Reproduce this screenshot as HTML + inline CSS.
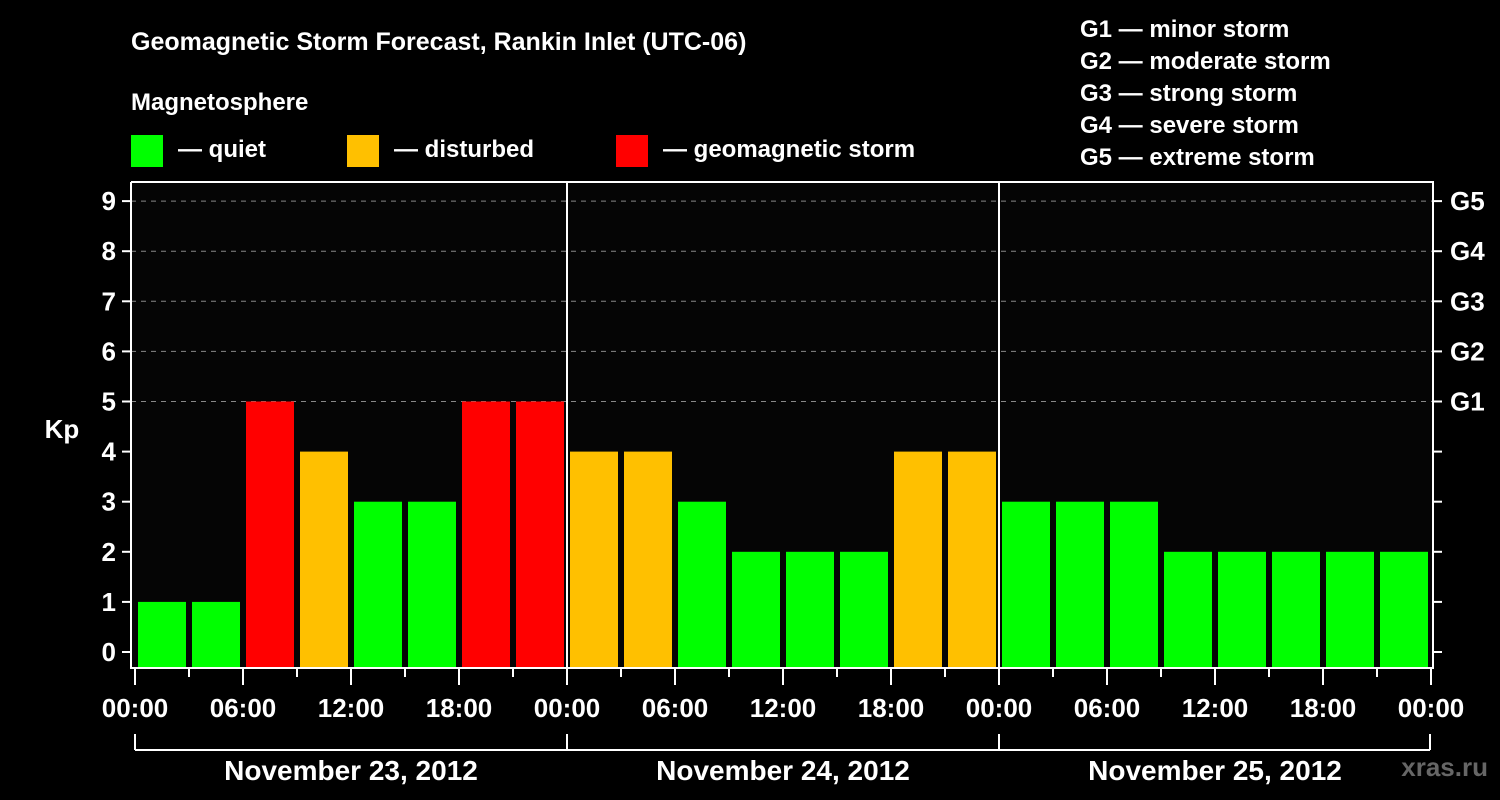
<!DOCTYPE html>
<html><head><meta charset="utf-8"><style>
html,body{margin:0;padding:0;background:#000;}
svg{display:block;font-family:"Liberation Sans",Arial,sans-serif;font-weight:bold;}
</style></head><body>
<svg id="chart" width="1500" height="800" viewBox="0 0 1500 800">
<rect x="0" y="0" width="1500" height="800" fill="#000"/>
<text x="131" y="50" fill="#fff" font-size="25">Geomagnetic Storm Forecast, Rankin Inlet (UTC-06)</text>
<text x="131" y="110" fill="#fff" font-size="24">Magnetosphere</text>
<g><rect x="131" y="135" width="32" height="32" fill="#00ff00"/><text x="178" y="157" fill="#fff" font-size="24">— quiet</text></g>
<g><rect x="347" y="135" width="32" height="32" fill="#ffc000"/><text x="394" y="157" fill="#fff" font-size="24">— disturbed</text></g>
<g><rect x="616" y="135" width="32" height="32" fill="#ff0000"/><text x="663" y="157" fill="#fff" font-size="24">— geomagnetic storm</text></g>
<g fill="#fff" font-size="24">
<text x="1080" y="37">G1 — minor storm</text>
<text x="1080" y="69">G2 — moderate storm</text>
<text x="1080" y="101">G3 — strong storm</text>
<text x="1080" y="133">G4 — severe storm</text>
<text x="1080" y="165">G5 — extreme storm</text>
</g>
<rect x="131" y="182" width="1302" height="486" fill="#050505"/>
<g id="grid"></g>
<g id="bars"></g>
<g id="axes"></g>
<text x="62" y="438" fill="#fff" font-size="26" text-anchor="middle">Kp</text>
<text x="1488" y="776" fill="#666" font-size="26" text-anchor="end">xras.ru</text>
</svg>
<script>
const days = ["November 23, 2012","November 24, 2012","November 25, 2012"];
const kpValues = [1,1,5,4,3,3,5,5, 4,4,3,2,2,2,4,4, 3,3,3,2,2,2,2,2];
const yTicks = [0,1,2,3,4,5,6,7,8,9];
const gLabels = ["G1","G2","G3","G4","G5"];
const timeLabels = ["00:00","06:00","12:00","18:00"];

const NS="http://www.w3.org/2000/svg";
const x0=135, dayW=432, slot=54;
const yKp=v=>652-v*50.1;
const xSlot=i=>x0+i*slot;
function mk(tag,attrs,parent,text){const e=document.createElementNS(NS,tag);for(const k in attrs)e.setAttribute(k,attrs[k]);if(text!==undefined)e.textContent=text;document.getElementById(parent).appendChild(e);return e;}
function color(v){return v>=5?"#ff0000":(v>=4?"#ffc000":"#00ff00");}

yTicks.forEach(v=>{
  if(v>=5){const l=mk("line",{x1:131,x2:1433,y1:yKp(v),y2:yKp(v),stroke:"#888","stroke-width":1,"stroke-dasharray":"5,5"},"grid");
  
  }
  const t=mk("line",{x1:122,x2:131,y1:yKp(v),y2:yKp(v),stroke:"#fff","stroke-width":2},"axes");
  
  
  const t2=mk("line",{x1:1433,x2:1442,y1:yKp(v),y2:yKp(v),stroke:"#fff","stroke-width":2},"axes");
  
  
  const lb=mk("text",{x:116,y:yKp(v)+9,fill:"#fff","font-size":26,"text-anchor":"end"},"axes",String(v));
  
  
});
gLabels.forEach((g,i)=>{
  const lb=mk("text",{x:1450,y:yKp(5+i)+9,fill:"#fff","font-size":26},"axes",g);
  
  
});
kpValues.forEach((v,i)=>{
  const b=mk("rect",{x:xSlot(i)+3,y:yKp(v),width:48,height:668-yKp(v),fill:color(v)},"bars");
  
  
});
// frame
const fr=mk("path",{d:"M131,182 V668 H1433 V182 H131",fill:"none",stroke:"#fff","stroke-width":2},"axes");


for(let d=1;d<days.length;d++){
  const l=mk("line",{x1:x0+d*dayW,x2:x0+d*dayW,y1:182,y2:668,stroke:"#fff","stroke-width":2},"axes");
  
  
}
for(let i=0;i<=kpValues.length;i++){
  const major=i%2===0;
  const t=mk("line",{x1:xSlot(i),x2:xSlot(i),y1:668,y2:major?685:677,stroke:"#fff","stroke-width":2},"axes");
  
  
  if(major){
    const lb=mk("text",{x:xSlot(i),y:717,fill:"#fff","font-size":26,"text-anchor":"middle"},"axes",timeLabels[(i/2)%4]);
    
    
  }
}
const br=mk("line",{x1:x0,x2:x0+days.length*dayW-1,y1:750,y2:750,stroke:"#fff","stroke-width":2},"axes");


for(let d=0;d<=days.length;d++){
  const t=mk("line",{x1:Math.min(x0+d*dayW,1430),x2:Math.min(x0+d*dayW,1430),y1:734,y2:750,stroke:"#fff","stroke-width":2},"axes");
  
  
}
days.forEach((d,i)=>{
  const lb=mk("text",{x:x0+i*dayW+dayW/2,y:780,fill:"#fff","font-size":28,"text-anchor":"middle"},"axes",d);
  
  
});
</script>
</body></html>
